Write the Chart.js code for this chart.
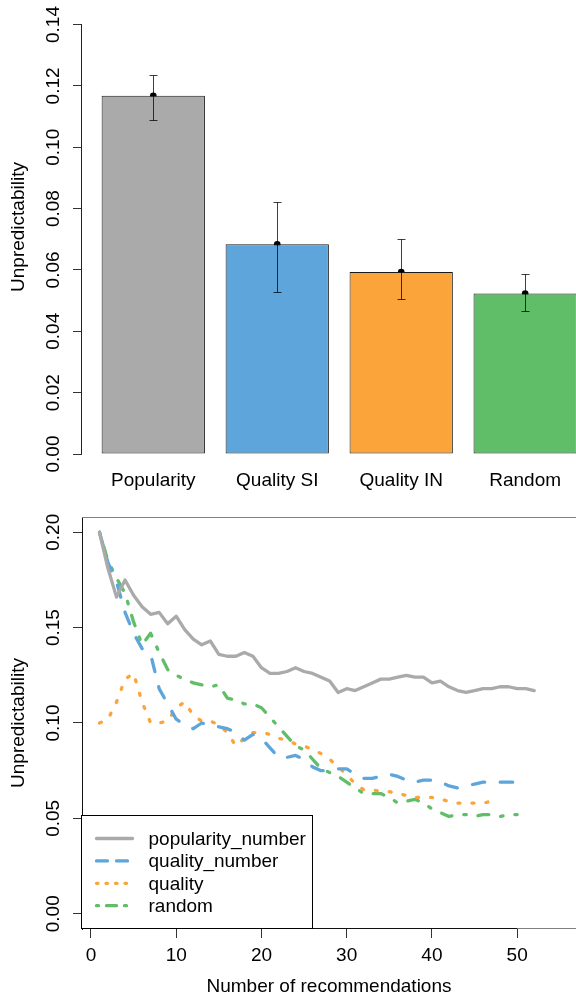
<!DOCTYPE html>
<html lang="en">
<head>
<meta charset="UTF-8">
<title>Unpredictability</title>
<script src="https://cdn.jsdelivr.net/npm/chart.js@4"></script>
<style>
  html, body { margin: 0; padding: 0; background: #fff; overflow: hidden; }
  canvas { display: block; }
</style>
</head>
<body>
<canvas id="barChart" width="576" height="500"></canvas>
<canvas id="lineChart" width="576" height="500"></canvas>
<script>
// ---- top panel: mean unpredictability per strategy
const strategies = ['Popularity', 'Quality SI', 'Quality IN', 'Random'];
const meanUnpred = [0.1168, 0.0684, 0.0593, 0.0523];
const errLow = [0.1090, 0.0528, 0.0504, 0.0465];
const errHigh = [0.1236, 0.0822, 0.0702, 0.0587];
const barTicks = [0, 0.02, 0.04, 0.06, 0.08, 0.10, 0.12, 0.14];

// ---- bottom panel: unpredictability vs number of recommendations
const nRecs = [1, 2, 3, 4, 5, 6, 7, 8, 9, 10, 11, 12, 13, 14, 15, 16, 17, 18, 19, 20,
  21, 22, 23, 24, 25, 26, 27, 28, 29, 30, 31, 32, 33, 34, 35, 36, 37, 38, 39, 40,
  41, 42, 43, 44, 45, 46, 47, 48, 49, 50, 51, 52];
const popularityNumber = [0.200, 0.181, 0.166, 0.175, 0.167, 0.161, 0.157, 0.158, 0.152, 0.156,
  0.149, 0.144, 0.141, 0.143, 0.136, 0.135, 0.135, 0.137, 0.135, 0.129,
  0.126, 0.126, 0.127, 0.129, 0.127, 0.126, 0.124, 0.122, 0.116, 0.118,
  0.117, 0.119, 0.121, 0.123, 0.123, 0.124, 0.125, 0.124, 0.124, 0.121,
  0.122, 0.119, 0.117, 0.116, 0.117, 0.118, 0.118, 0.119, 0.119, 0.118,
  0.118, 0.117];
const qualityNumber = [0.200, 0.184, 0.174, 0.158, 0.147, 0.139, 0.136, 0.118, 0.110, 0.102,
  0.099, 0.097, 0.100, 0.099, 0.098, 0.097, 0.095, 0.091, 0.094, 0.092,
  0.087, 0.082, 0.082, 0.083, 0.081, 0.077, 0.075, 0.075, 0.076, 0.076,
  0.073, 0.071, 0.071, 0.072, 0.073, 0.072, 0.070, 0.069, 0.070, 0.070,
  0.069, 0.067, 0.066, 0.067, 0.068, 0.069, 0.069, 0.069, 0.069, 0.069];
const quality = [0.100, 0.102, 0.111, 0.123, 0.126, 0.111, 0.100, 0.100, 0.101, 0.108,
  0.111, 0.104, 0.101, 0.101, 0.099, 0.095, 0.088, 0.092, 0.095, 0.095,
  0.094, 0.092, 0.091, 0.089, 0.088, 0.086, 0.084, 0.081, 0.077, 0.073,
  0.068, 0.065, 0.065, 0.064, 0.064, 0.063, 0.062, 0.061, 0.061, 0.061,
  0.060, 0.059, 0.058, 0.058, 0.058, 0.058, 0.059];
const random = [0.200, 0.185, 0.176, 0.168, 0.153, 0.141, 0.147, 0.137, 0.128, 0.125,
  0.123, 0.121, 0.120, 0.119, 0.120, 0.113, 0.112, 0.110, 0.110, 0.108,
  0.103, 0.098, 0.093, 0.088, 0.086, 0.081, 0.076, 0.074, 0.072, 0.069,
  0.066, 0.063, 0.063, 0.063, 0.061, 0.058, 0.059, 0.060, 0.058, 0.055,
  0.053, 0.051, 0.052, 0.052, 0.051, 0.052, 0.052, 0.051, 0.052, 0.052];
const xTicks = [0, 10, 20, 30, 40, 50];
const yTicks = [0, 0.05, 0.10, 0.15, 0.20];

const FONT = '"Liberation Sans", Arial, Helvetica, sans-serif';
Chart.defaults.font.family = FONT;
Chart.defaults.font.size = 19;
Chart.defaults.color = '#000';

const GRAY = '#aaaaaa', BLUE = '#5da5da', ORANGE = '#faa43a', GREEN = '#60bd68';

// R barplot places bars of width 1 with 0.2 spacing
const barPos = strategies.map((_, i) => 0.7 + 1.2 * i);

const toXY = arr => arr.map((v, i) => ({ x: nRecs[i], y: v }));

// error bars drawn right after the bars, before the mean points
const errorBars = {
  id: 'errorBars',
  afterDatasetDraw(chart, args) {
    if (args.index !== 0) return;
    const { ctx, scales: { x, y } } = chart;
    ctx.save();
    ctx.strokeStyle = 'rgba(0,0,0,0.75)';
    ctx.lineWidth = 1;
    barPos.forEach((b, i) => {
      const px = Math.round(x.getPixelForValue(b)) + 0.5;
      const top = Math.round(y.getPixelForValue(errHigh[i])) + 0.5;
      const bot = Math.round(y.getPixelForValue(errLow[i])) + 0.5;
      ctx.beginPath();
      ctx.moveTo(px, top); ctx.lineTo(px, bot);
      ctx.moveTo(px - 4, top); ctx.lineTo(px + 4, top);
      ctx.moveTo(px - 4, bot); ctx.lineTo(px + 4, bot);
      ctx.stroke();
    });
    ctx.restore();
  }
};

// R draws the y axis line only from first to last tick
const rAxisLine = {
  id: 'rAxisLine',
  afterDraw(chart) {
    const { ctx, chartArea, scales: { y } } = chart;
    const ticks = y.ticks;
    const x0 = Math.round(chartArea.left) - 0.5;
    ctx.save();
    ctx.strokeStyle = '#222';
    ctx.lineWidth = 1;
    ctx.beginPath();
    ctx.moveTo(x0, y.getPixelForValue(ticks[0].value));
    ctx.lineTo(x0, y.getPixelForValue(ticks[ticks.length - 1].value));
    ctx.stroke();
    ctx.restore();
  }
};

new Chart(document.getElementById('barChart'), {
  type: 'bar',
  data: {
    datasets: [
      {
        data: barPos.map((b, i) => ({ x: b, y: meanUnpred[i] })),
        backgroundColor: [GRAY, BLUE, ORANGE, GREEN],
        borderColor: '#1a1a1a',
        borderWidth: 1,
        borderSkipped: false,
        categoryPercentage: 1 / 1.2,
        barPercentage: 1
      },
      {
        type: 'line',
        data: barPos.map((b, i) => ({ x: b, y: meanUnpred[i] })),
        showLine: false,
        pointRadius: 3.3,
        pointBackgroundColor: '#000',
        pointBorderColor: '#000',
        pointBorderWidth: 0
      }
    ]
  },
  options: {
    responsive: false,
    animation: false,
    events: [],
    layout: { padding: 0, autoPadding: false },
    plugins: { legend: { display: false }, tooltip: { enabled: false } },
    scales: {
      x: {
        type: 'linear',
        offset: false,
        min: 0.01,
        max: 4.792,
        grid: { display: false, drawTicks: false, offset: false },
        border: { display: false },
        afterBuildTicks: s => { s.ticks = barPos.map(v => ({ value: v })); },
        ticks: { padding: 15, autoSkip: false, maxRotation: 0, callback: (v, i) => strategies[i] },
        afterFit: s => { s.height = 46; s.paddingLeft = 0; s.paddingRight = 0; }
      },
      y: {
        min: 0,
        max: 0.148,
        afterBuildTicks: s => { s.ticks = barTicks.map(v => ({ value: v })); },
        ticks: { minRotation: 90, maxRotation: 90, crossAlign: 'center', padding: 1,
                 callback: v => v.toFixed(2) },
        grid: { drawOnChartArea: false, tickLength: 9, color: '#333' },
        border: { display: false },
        title: { display: true, text: 'Unpredictability', padding: { top: 7, bottom: 0 } },
        afterFit: s => { s.width = 82; s.paddingTop = 0; }
      }
    }
  },
  plugins: [errorBars, rAxisLine]
});

// box, x axis line and legend of the bottom panel
const frameAndLegend = {
  id: 'frameAndLegend',
  afterDraw(chart) {
    const { ctx, chartArea: a, scales: { x } } = chart;
    ctx.save();
    ctx.lineWidth = 1;
    // plot box (gray), partly cropped on the right
    ctx.strokeStyle = '#808080';
    ctx.beginPath();
    ctx.moveTo(a.left, Math.round(a.top) + 0.5);
    ctx.lineTo(a.right, Math.round(a.top) + 0.5);
    ctx.moveTo(a.left, Math.round(a.bottom) - 0.5);
    ctx.lineTo(a.right, Math.round(a.bottom) - 0.5);
    ctx.stroke();
    // x axis line between first and last tick
    ctx.strokeStyle = '#111';
    ctx.beginPath();
    ctx.moveTo(x.getPixelForValue(xTicks[0]), Math.round(a.bottom) - 0.5);
    ctx.lineTo(x.getPixelForValue(xTicks[xTicks.length - 1]), Math.round(a.bottom) - 0.5);
    ctx.stroke();

    // legend box in the bottom-left corner
    const w = 231, h = 113;
    const left = Math.round(a.left) - 0.5, top = Math.round(a.bottom) - h - 0.5;
    ctx.fillStyle = '#fff';
    ctx.fillRect(left, top, w, h);
    ctx.strokeStyle = '#000';
    ctx.strokeRect(left, top, w, h);
    ctx.font = '19px ' + FONT;
    ctx.textBaseline = 'middle';
    ctx.textAlign = 'left';
    chart.data.datasets.forEach((ds, i) => {
      const yy = top + 23 + 22.4 * i;
      ctx.strokeStyle = ds.borderColor;
      ctx.lineWidth = ds.borderWidth;
      ctx.lineCap = 'round';
      ctx.setLineDash(ds.legendDash || []);
      ctx.beginPath();
      ctx.moveTo(left + 15, yy);
      ctx.lineTo(left + 51, yy);
      ctx.stroke();
      ctx.setLineDash([]);
      ctx.fillStyle = '#000';
      ctx.fillText(ds.label, left + 67, yy + 1);
    });
    ctx.restore();
  }
};

const lineStyle = { fill: false, tension: 0, pointRadius: 0, borderWidth: 3.3,
                    borderCapStyle: 'round', borderJoinStyle: 'round' };

new Chart(document.getElementById('lineChart'), {
  type: 'line',
  data: {
    datasets: [
      { ...lineStyle, label: 'popularity_number', data: toXY(popularityNumber),
        borderColor: GRAY, borderDash: [], legendDash: [] },
      { ...lineStyle, label: 'quality_number', data: toXY(qualityNumber),
        borderColor: BLUE, borderDash: [12.5, 15.5], legendDash: [11, 9] },
      { ...lineStyle, label: 'quality', data: toXY(quality),
        borderColor: ORANGE, borderDash: [2, 12], legendDash: [1.5, 8] },
      { ...lineStyle, label: 'random', data: toXY(random),
        borderColor: GREEN, borderDash: [2.5, 12, 11, 12], legendDash: [2, 8, 10, 8] }
    ]
  },
  options: {
    responsive: false,
    animation: false,
    events: [],
    layout: { padding: { top: 17, right: 0, bottom: 0, left: 0 }, autoPadding: false },
    plugins: { legend: { display: false }, tooltip: { enabled: false } },
    scales: {
      x: {
        type: 'linear',
        min: -1.05,
        max: 56.9,
        afterBuildTicks: s => { s.ticks = xTicks.map(v => ({ value: v })); },
        ticks: { padding: 6, autoSkip: false, maxRotation: 0 },
        grid: { drawOnChartArea: false, tickLength: 9, color: '#333' },
        border: { display: false },
        title: { display: true, text: 'Number of recommendations', padding: { top: 0, bottom: 2 } },
        afterFit: s => { s.height = 71; s.paddingLeft = 0; s.paddingRight = 0; }
      },
      y: {
        min: -0.008,
        max: 0.208,
        afterBuildTicks: s => { s.ticks = yTicks.map(v => ({ value: v })); },
        ticks: { minRotation: 90, maxRotation: 90, crossAlign: 'center', padding: 1,
                 callback: v => v.toFixed(2) },
        grid: { drawOnChartArea: false, tickLength: 9, color: '#333' },
        border: { display: true, color: '#111', width: 1 },
        title: { display: true, text: 'Unpredictability', padding: { top: 7, bottom: 0 } },
        afterFit: s => { s.width = 82; }
      }
    }
  },
  plugins: [frameAndLegend]
});
</script>
</body>
</html>
